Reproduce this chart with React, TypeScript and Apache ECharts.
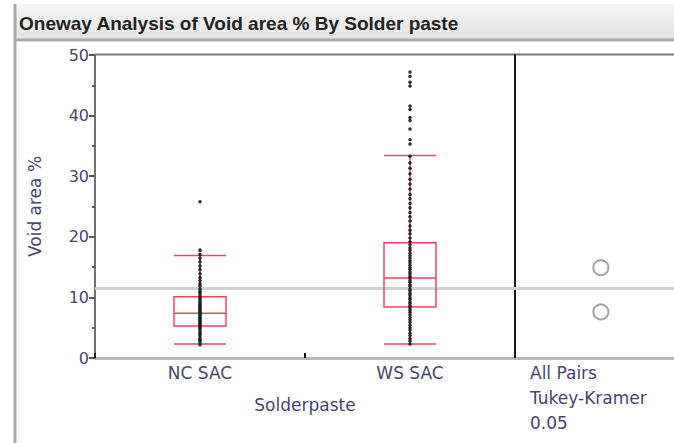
import React, { useEffect, useRef } from "react";
import * as echarts from "echarts";

const categories = ["NC SAC", "WS SAC"];
// [lower whisker, Q1, median, Q3, upper whisker]
const boxNC = [2.3, 5.3, 7.4, 10.1, 16.9];
const boxWS = [2.3, 8.4, 13.2, 19.0, 33.4];
const pointsNC = [2.2, 2.5, 2.9, 3.1, 3.4, 3.8, 4.0, 4.3, 4.6, 4.9, 5.1, 5.3, 5.5, 5.7, 5.9, 6.1, 6.3, 6.5, 6.7, 6.9, 7.1, 7.3, 7.4, 7.6, 7.8, 8.0, 8.2, 8.4, 8.7, 8.9, 9.1, 9.4, 9.7, 10.0, 10.3, 10.7, 11.0, 11.4, 11.9, 12.3, 12.8, 13.3, 13.9, 14.6, 15.2, 15.9, 16.5, 17.1, 17.8, 25.8];
const pointsWS = [2.3, 2.8, 3.2, 3.7, 4.1, 4.6, 5.0, 5.4, 5.9, 6.3, 6.7, 7.1, 7.5, 7.9, 8.3, 8.6, 9.0, 9.3, 9.7, 10.0, 10.4, 10.7, 11.1, 11.4, 11.8, 12.1, 12.5, 12.8, 13.2, 13.5, 13.9, 14.2, 14.6, 14.9, 15.3, 15.7, 16.1, 16.5, 16.9, 17.3, 17.8, 18.2, 18.7, 19.2, 19.8, 20.5, 21.1, 21.8, 22.6, 23.3, 24.0, 24.8, 25.5, 26.3, 27.0, 27.9, 28.7, 29.5, 30.4, 31.3, 32.2, 33.3, 35.3, 36.0, 37.8, 39.2, 39.7, 41.0, 41.6, 44.9, 45.5, 46.5, 47.2];
const grandMean = 11.5;
const groupMeans = [7.6, 14.9];
const yTicks = { min: 0, max: 50, interval: 10 };

const labelColor = "#45456c";
const font = "DejaVu Sans";

export default function App() {
  const ref = useRef<HTMLDivElement>(null);
  useEffect(() => {
    const chart = echarts.init(ref.current!, null, { renderer: "svg" });
    const scatterData = [
      ...pointsNC.map((v) => [0, v]),
      ...pointsWS.map((v) => [1, v]),
    ];
    chart.setOption({
      animation: false,
      backgroundColor: "#ffffff",
      grid: [
        { left: 95, top: 55, right: 159, bottom: 85 },
        { left: 515, top: 55, right: 0, bottom: 85 },
      ],
      xAxis: [
        {
          type: "category",
          gridIndex: 0,
          data: categories,
          boundaryGap: true,
          name: "Solderpaste",
          nameLocation: "middle",
          nameGap: 38,
          nameTextStyle: { color: labelColor, fontFamily: font, fontSize: 17 },
          axisLine: { show: true, lineStyle: { color: "#b8b8b8", width: 3 } },
          axisTick: { show: true, inside: true, length: 5, lineStyle: { color: "#111", width: 2 } },
          axisLabel: { color: labelColor, fontFamily: font, fontSize: 17, margin: 6 },
          splitLine: { show: false },
        },
        {
          type: "value",
          gridIndex: 1,
          min: 0,
          max: 1,
          axisLine: { show: true, onZero: false, lineStyle: { color: "#b8b8b8", width: 3 } },
          axisTick: { show: false },
          axisLabel: { show: false },
          splitLine: { show: false },
        },
      ],
      yAxis: [
        {
          type: "value",
          gridIndex: 0,
          min: yTicks.min,
          max: yTicks.max,
          interval: yTicks.interval,
          name: "Void area %",
          nameLocation: "middle",
          nameGap: 52,
          nameTextStyle: { color: labelColor, fontFamily: font, fontSize: 17 },
          axisLine: { show: true, lineStyle: { color: "#6f6f6f", width: 2 } },
          axisTick: { show: true, length: 6, lineStyle: { color: "#555", width: 2 } },
          minorTick: { show: true, splitNumber: 2, length: 3, lineStyle: { color: "#555", width: 2 } },
          axisLabel: { color: labelColor, fontFamily: font, fontSize: 16, margin: 6 },
          splitLine: { show: false },
        },
        {
          type: "value",
          gridIndex: 1,
          min: yTicks.min,
          max: yTicks.max,
          interval: yTicks.interval,
          axisLine: { show: true, lineStyle: { color: "#1a1a1a", width: 2 } },
          axisTick: { show: false },
          axisLabel: { show: false },
          splitLine: { show: false },
        },
      ],
      graphic: [
        {
          type: "rect",
          shape: { x: 14, y: 4, width: 660, height: 36 },
          style: {
            fill: new echarts.graphic.LinearGradient(0, 0, 0, 1, [
              { offset: 0, color: "#f4f4f4" },
              { offset: 1, color: "#e4e4e4" },
            ]),
          },
          silent: true,
        },
        { type: "line", shape: { x1: 14, y1: 40, x2: 674, y2: 40 }, style: { stroke: "#aaaaaa", lineWidth: 3 }, silent: true },
        { type: "line", shape: { x1: 15, y1: 4, x2: 15, y2: 443 }, style: { stroke: "#a8a8a8", lineWidth: 3 }, silent: true },
        { type: "line", shape: { x1: 95, y1: 54.5, x2: 674, y2: 54.5 }, style: { stroke: "#777777", lineWidth: 2 }, silent: true },
        {
          type: "text",
          x: 19,
          y: 23,
          style: {
            text: "Oneway Analysis of Void area % By Solder paste",
            font: "bold 19px 'Liberation Sans', Arial, sans-serif",
            fill: "#222222",
            verticalAlign: "middle",
          },
        },
        {
          type: "text",
          x: 530,
          y: 373,
          style: { text: "All Pairs", font: `17px '${font}'`, fill: labelColor, verticalAlign: "middle" },
        },
        {
          type: "text",
          x: 530,
          y: 398,
          style: { text: "Tukey-Kramer", font: `17px '${font}'`, fill: labelColor, verticalAlign: "middle" },
        },
        {
          type: "text",
          x: 530,
          y: 423,
          style: { text: "0.05", font: `17px '${font}'`, fill: labelColor, verticalAlign: "middle" },
        },
      ],
      series: [
        {
          type: "boxplot",
          xAxisIndex: 0,
          yAxisIndex: 0,
          data: [boxNC, boxWS],
          boxWidth: [52, 52],
          itemStyle: { color: "rgba(0,0,0,0)", borderColor: "#f0445e", borderWidth: 1.5 },
          silent: true,
          z: 3,
          markLine: {
            silent: true,
            symbol: ["none", "none"],
            label: { show: false },
            lineStyle: { color: "#d2d2d2", width: 3, type: "solid" },
            data: [{ yAxis: grandMean }],
            z: 1,
          },
        },
        {
          type: "scatter",
          xAxisIndex: 0,
          yAxisIndex: 0,
          data: scatterData,
          symbol: "circle",
          symbolSize: 3.5,
          itemStyle: { color: "#1a1a1a", opacity: 0.9 },
          silent: true,
          z: 4,
        },
        {
          type: "scatter",
          xAxisIndex: 1,
          yAxisIndex: 1,
          data: groupMeans.map((m) => [0.54, m]),
          symbol: "emptyCircle",
          symbolSize: 15,
          itemStyle: { color: "#8c8c8c", borderWidth: 1.5 },
          silent: true,
          z: 4,
          markLine: {
            silent: true,
            symbol: ["none", "none"],
            label: { show: false },
            lineStyle: { color: "#d2d2d2", width: 3, type: "solid" },
            data: [{ yAxis: grandMean }],
            z: 1,
          },
        },
      ],
    });
    return () => chart.dispose();
  }, []);
  return (
    <div
      ref={ref}
      style={{ position: "fixed", left: 0, top: 0, width: 674, height: 443 }}
    />
  );
}
